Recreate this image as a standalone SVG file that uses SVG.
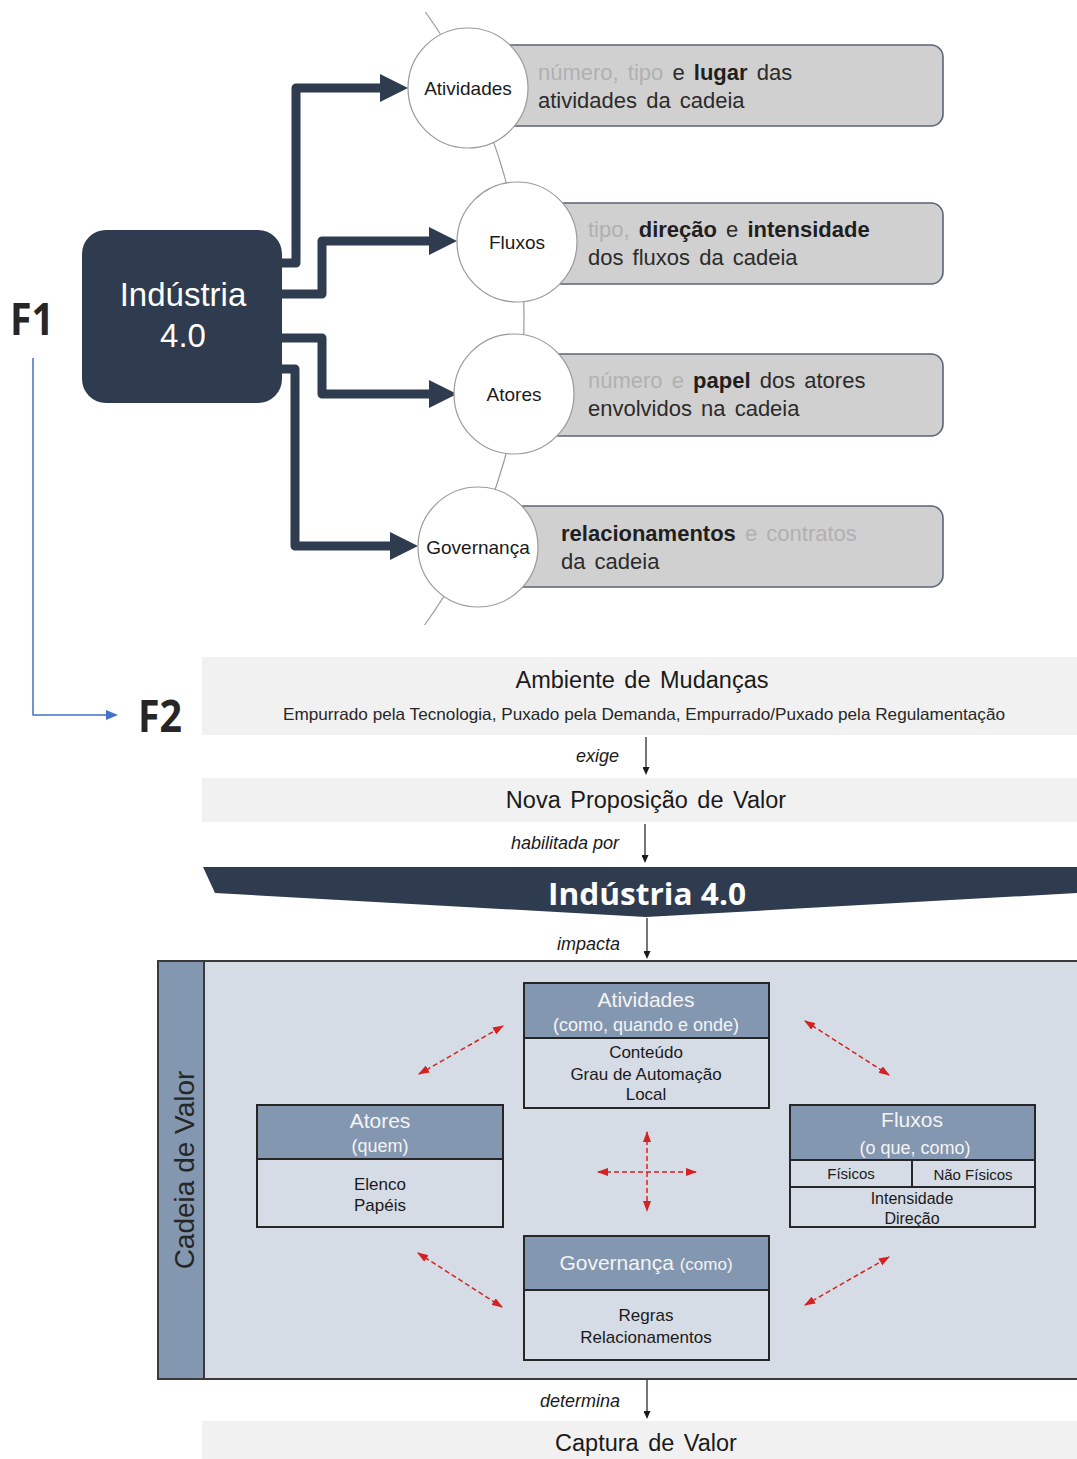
<svg xmlns="http://www.w3.org/2000/svg" width="1077" height="1459" viewBox="0 0 1077 1459">
  <style>
    text { font-family: "Liberation Sans", Arial, sans-serif; fill: #262626; }
    .cal { font-family: "Open Sans", "Liberation Sans", sans-serif; font-weight: 700; }
    .circ { fill: #ffffff; stroke: #9a9a9a; stroke-width: 1.2; }
    .desc { fill: #d1d0d0; stroke: #5a6474; stroke-width: 1.6; }
    .dtxt { font-size: 22px; word-spacing: 3px; fill: #2b2b2b; }
    .faint { fill: #b0b0b0; }
    .b { font-weight: 700; fill: #1f1f1f; }
    .clbl { font-size: 19px; text-anchor: middle; fill: #1a1a1a; }
    .thick { fill: none; stroke: #2f3b4f; stroke-width: 9; stroke-linejoin: round; marker-end: url(#bigHead); }
    .band { fill: #f1f1f1; }
    .btxt { font-size: 23.5px; text-anchor: middle; word-spacing: 3px; fill: #1a1a1a; }
    .ital { font-size: 18px; font-style: italic; text-anchor: end; fill: #1a1a1a; }
    .thin { stroke: #1a1a1a; stroke-width: 1.2; marker-end: url(#smallHead); }
    .hdr { fill: #8497b0; stroke: #262626; stroke-width: 2; }
    .body { fill: #d6dce5; stroke: #262626; stroke-width: 2; }
    .htxt { fill: #f4f4f4; text-anchor: middle; }
    .bdtxt { font-size: 17px; text-anchor: middle; fill: #1a1a1a; }
    .red { fill: none; stroke: #d42222; stroke-width: 1.5; stroke-dasharray: 5 3; marker-start: url(#redHead); marker-end: url(#redHead); }
  </style>
  <defs>
    <marker id="bigHead" viewBox="0 0 28 28" markerUnits="userSpaceOnUse" markerWidth="28" markerHeight="28" refX="1" refY="14" orient="auto">
      <path d="M0,0 L28,14 L0,28 z" fill="#2f3b4f"/>
    </marker>
    <marker id="blueHead" viewBox="0 0 12 10" markerUnits="userSpaceOnUse" markerWidth="12" markerHeight="10" refX="1" refY="5" orient="auto">
      <path d="M0,0 L12,5 L0,10 z" fill="#4472c4"/>
    </marker>
    <marker id="smallHead" viewBox="0 0 8 7" markerUnits="userSpaceOnUse" markerWidth="8" markerHeight="7" refX="1" refY="3.5" orient="auto">
      <path d="M0,0 L8,3.5 L0,7 z" fill="#1a1a1a"/>
    </marker>
    <marker id="redHead" viewBox="0 0 11 8" markerUnits="userSpaceOnUse" markerWidth="11" markerHeight="8" refX="10" refY="4" orient="auto-start-reverse">
      <path d="M0,0 L11,4 L0,8 z" fill="#d42222"/>
    </marker>
  </defs>

  <rect width="1077" height="1459" fill="#ffffff"/>

  <!-- F1 / F2 labels -->
  <text class="cal" x="10" y="335" font-size="44" textLength="44" lengthAdjust="spacingAndGlyphs" fill="#111">F1</text>
  <text class="cal" x="138" y="732" font-size="44" textLength="44" lengthAdjust="spacingAndGlyphs" fill="#111">F2</text>

  <!-- arc linking the four dimensions -->
  <path d="M 425.4 12 A 524 524 0 0 1 424.6 625" fill="none" stroke="#9a9a9a" stroke-width="1.2"/>

  <!-- connectors -->
  <g id="connectors">
    <path class="thick" d="M 275 263 H 296 V 88 H 381"/>
    <path class="thick" d="M 275 294 H 322 V 241 H 430"/>
    <path class="thick" d="M 275 338 H 322 V 394 H 430"/>
    <path class="thick" d="M 275 369 H 295 V 546 H 391"/>
    <path d="M 33 358 V 715 H 107" fill="none" stroke="#4472c4" stroke-width="1.5" marker-end="url(#blueHead)"/>
    <line class="thin" x1="646" y1="737" x2="646" y2="768"/>
    <line class="thin" x1="645" y1="824" x2="645" y2="856"/>
    <line class="thin" x1="647" y1="918" x2="647" y2="952"/>
    <line class="thin" x1="647" y1="1380" x2="647" y2="1412"/>
  </g>

  <!-- central node -->
  <g id="industria-top">
    <rect x="82" y="230" width="200" height="173" rx="24" fill="#2f3b4f"/>
    <text x="183" y="306" font-size="33" text-anchor="middle" style="fill:#ffffff">Indústria</text>
    <text x="183" y="347" font-size="33" text-anchor="middle" style="fill:#ffffff">4.0</text>
  </g>

  <!-- dimension nodes -->
  <g id="atividades">
    <rect class="desc" x="495" y="45" width="448" height="81" rx="12"/>
    <circle class="circ" cx="468" cy="88" r="60"/>
    <text class="clbl" x="468" y="95">Atividades</text>
    <text class="dtxt" x="538" y="80"><tspan class="faint">número, tipo</tspan> e <tspan class="b">lugar</tspan> das</text>
    <text class="dtxt" x="538" y="108">atividades da cadeia</text>
  </g>
  <g id="fluxos">
    <rect class="desc" x="545" y="203" width="398" height="81" rx="12"/>
    <circle class="circ" cx="517" cy="242" r="60"/>
    <text class="clbl" x="517" y="249">Fluxos</text>
    <text class="dtxt" x="588" y="237"><tspan class="faint">tipo,</tspan> <tspan class="b">direção</tspan> e <tspan class="b">intensidade</tspan></text>
    <text class="dtxt" x="588" y="265">dos fluxos da cadeia</text>
  </g>
  <g id="atores">
    <rect class="desc" x="540" y="354" width="403" height="82" rx="12"/>
    <circle class="circ" cx="514" cy="394" r="60"/>
    <text class="clbl" x="514" y="401">Atores</text>
    <text class="dtxt" x="588" y="388"><tspan class="faint">número e</tspan> <tspan class="b">papel</tspan> dos atores</text>
    <text class="dtxt" x="588" y="416">envolvidos na cadeia</text>
  </g>
  <g id="governanca">
    <rect class="desc" x="505" y="506" width="438" height="81" rx="12"/>
    <circle class="circ" cx="478" cy="547" r="60"/>
    <text class="clbl" x="478" y="554">Governança</text>
    <text class="dtxt" x="561" y="541"><tspan class="b">relacionamentos</tspan> <tspan class="faint">e contratos</tspan></text>
    <text class="dtxt" x="561" y="569">da cadeia</text>
  </g>

  <!-- value chain flow -->
  <g id="ambiente">
    <rect class="band" x="202" y="657" width="875" height="78"/>
    <text class="btxt" x="642" y="688">Ambiente de Mudanças</text>
    <text x="644" y="720" font-size="16.5" text-anchor="middle" textLength="722" lengthAdjust="spacingAndGlyphs" fill="#1a1a1a">Empurrado pela Tecnologia, Puxado pela Demanda, Empurrado/Puxado pela Regulamentação</text>
  </g>
  <text class="ital" x="619" y="762">exige</text>

  <g id="proposicao">
    <rect class="band" x="202" y="778" width="875" height="44"/>
    <text class="btxt" x="646" y="808">Nova Proposição de Valor</text>
  </g>
  <text class="ital" x="619" y="849">habilitada por</text>

  <g id="industria-banner">
    <polygon points="203,867 1077,867 1077,893 646,917 215,893" fill="#2f3b4f"/>
    <text class="cal" x="647" y="905" font-size="31" text-anchor="middle" textLength="198" lengthAdjust="spacingAndGlyphs" style="fill:#ffffff">Indústria 4.0</text>
  </g>
  <text class="ital" x="620" y="950">impacta</text>

  <!-- value chain panel -->
  <g id="cadeia">
    <rect x="158" y="961" width="930" height="418" fill="#d6dce5" stroke="#3a3a3a" stroke-width="2"/>
    <rect x="158" y="961" width="46" height="418" fill="#8497b0" stroke="#3a3a3a" stroke-width="2"/>
    <text transform="translate(194,1170) rotate(-90)" font-size="28" text-anchor="middle" fill="#1a1a1a">Cadeia de Valor</text>
  </g>

  <g id="cv-atividades">
    <rect class="body" x="524" y="983" width="245" height="125"/>
    <rect class="hdr" x="524" y="983" width="245" height="55"/>
    <text class="htxt" x="646" y="1007" font-size="21">Atividades</text>
    <text class="htxt" x="646" y="1031" font-size="18">(como, quando e onde)</text>
    <text class="bdtxt" x="646" y="1058">Conteúdo</text>
    <text class="bdtxt" x="646" y="1080">Grau de Automação</text>
    <text class="bdtxt" x="646" y="1100">Local</text>
  </g>

  <g id="cv-atores">
    <rect class="body" x="257" y="1105" width="246" height="122"/>
    <rect class="hdr" x="257" y="1105" width="246" height="54"/>
    <text class="htxt" x="380" y="1128" font-size="21">Atores</text>
    <text class="htxt" x="380" y="1152" font-size="18">(quem)</text>
    <text class="bdtxt" x="380" y="1190">Elenco</text>
    <text class="bdtxt" x="380" y="1211">Papéis</text>
  </g>

  <g id="cv-fluxos">
    <rect class="body" x="790" y="1105" width="245" height="122"/>
    <rect class="hdr" x="790" y="1105" width="245" height="55"/>
    <line x1="790" y1="1187" x2="1035" y2="1187" stroke="#262626" stroke-width="2"/>
    <line x1="912" y1="1160" x2="912" y2="1187" stroke="#262626" stroke-width="2"/>
    <text class="htxt" x="912" y="1127" font-size="21">Fluxos</text>
    <text class="htxt" x="915" y="1154" font-size="18">(o que, como)</text>
    <text class="bdtxt" x="851" y="1179" style="font-size:15px">Físicos</text>
    <text class="bdtxt" x="973" y="1180" style="font-size:15px">Não Físicos</text>
    <text class="bdtxt" x="912" y="1204" style="font-size:16px">Intensidade</text>
    <text class="bdtxt" x="912" y="1224" style="font-size:16px">Direção</text>
  </g>

  <g id="cv-governanca">
    <rect class="body" x="524" y="1236" width="245" height="124"/>
    <rect class="hdr" x="524" y="1236" width="245" height="54"/>
    <text class="htxt" x="646" y="1270" font-size="21">Governança <tspan font-size="17">(como)</tspan></text>
    <text class="bdtxt" x="646" y="1321">Regras</text>
    <text class="bdtxt" x="646" y="1343">Relacionamentos</text>
  </g>

  <!-- interactions between dimensions -->
  <g id="interactions">
    <path class="red" d="M 419 1074 L 503 1026"/>
    <path class="red" d="M 805 1021 L 889 1075"/>
    <path class="red" d="M 418 1253 L 502 1307"/>
    <path class="red" d="M 805 1305 L 889 1257"/>
    <path class="red" d="M 647 1132 L 647 1211"/>
    <path class="red" d="M 598 1172 L 696 1172"/>
  </g>

  <text class="ital" x="620" y="1407">determina</text>

  <g id="captura">
    <rect class="band" x="202" y="1421" width="875" height="38"/>
    <text class="btxt" x="646" y="1451">Captura de Valor</text>
  </g>
</svg>
